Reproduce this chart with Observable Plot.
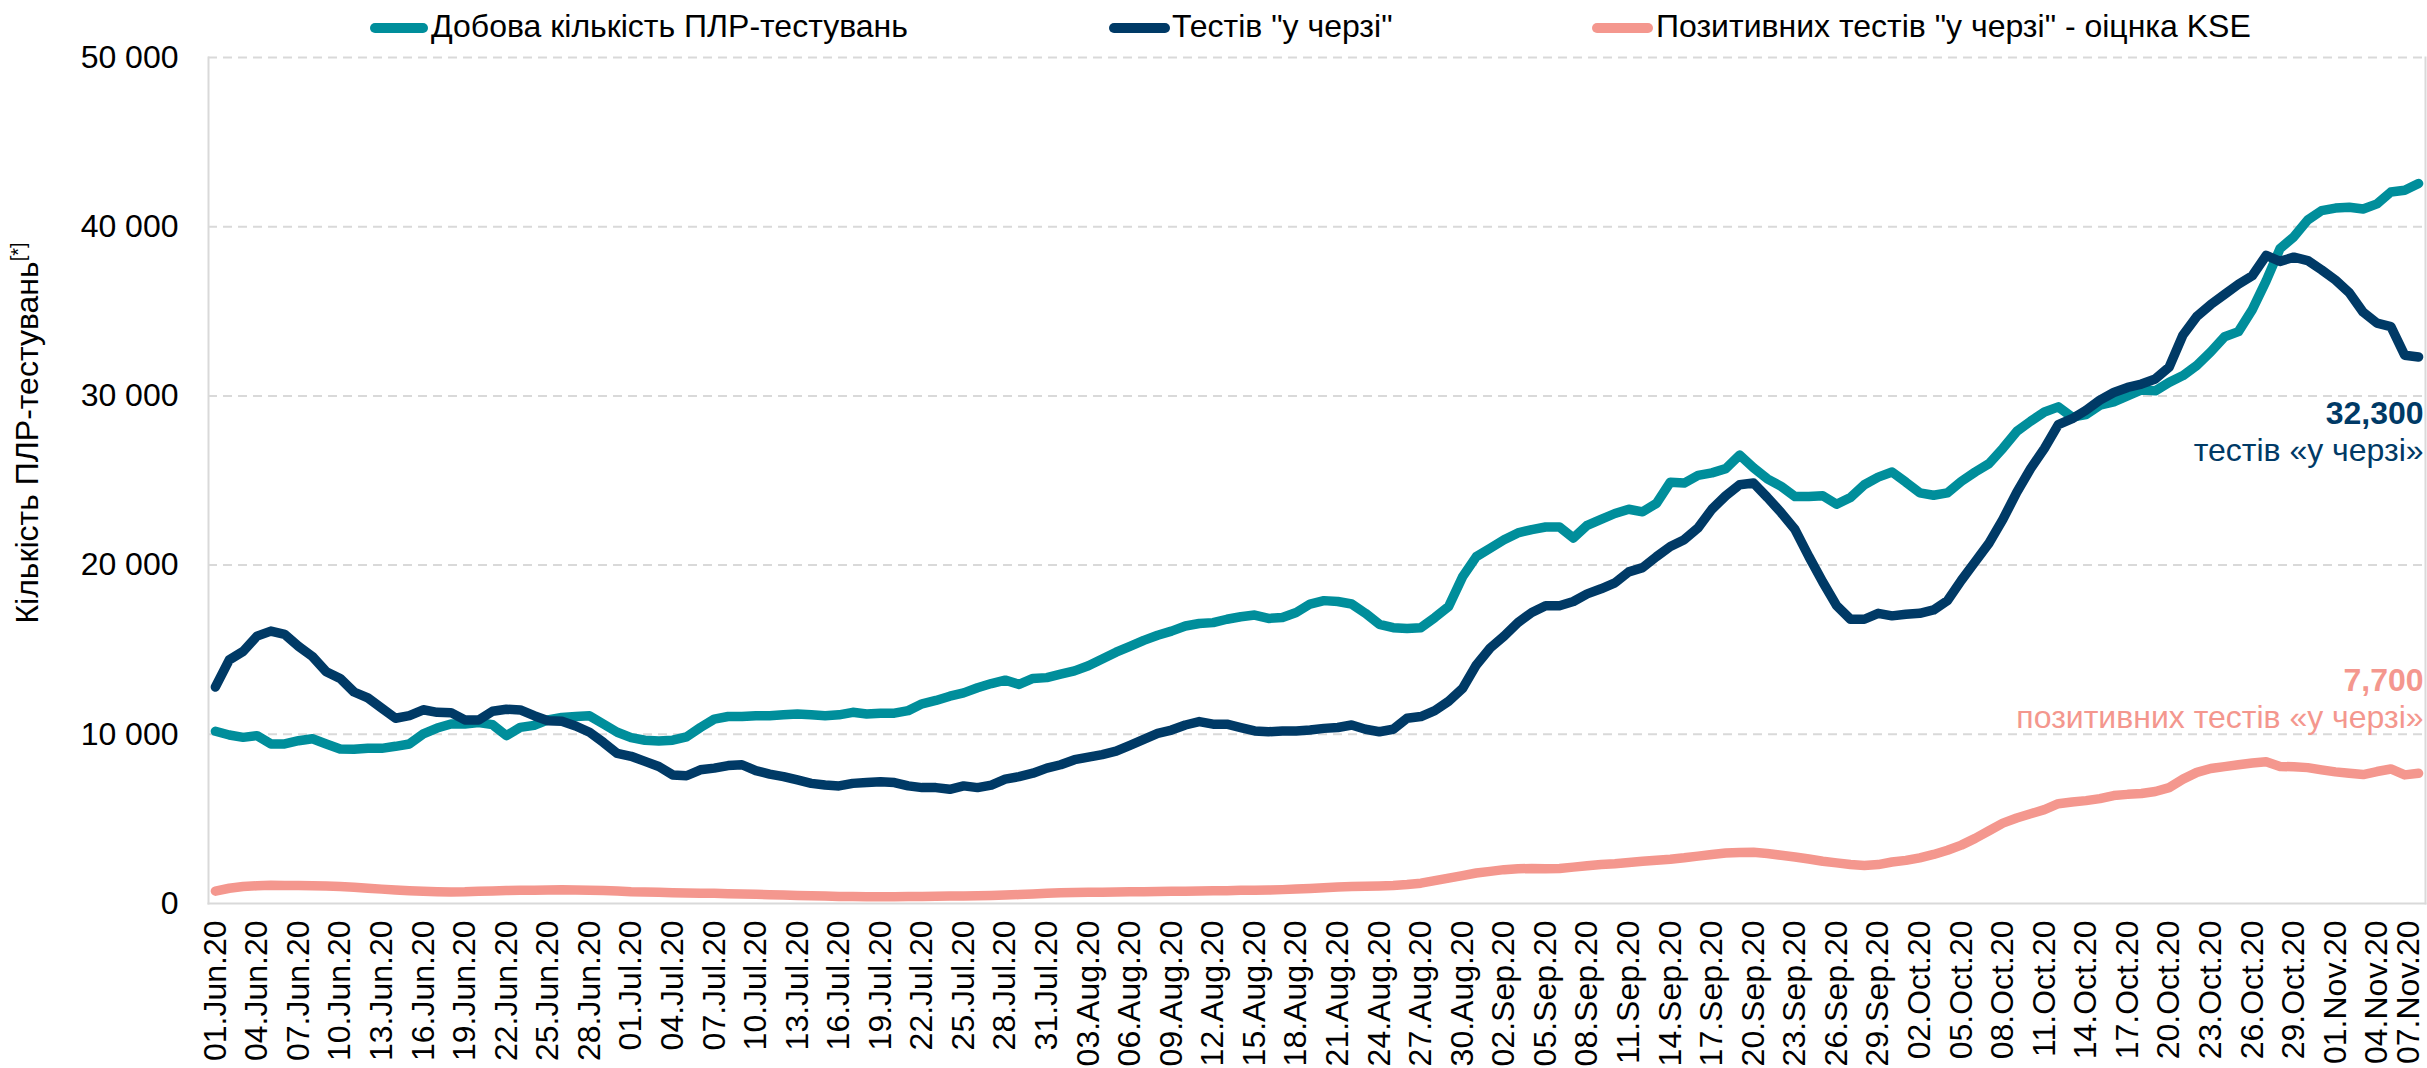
<!DOCTYPE html>
<html><head><meta charset="utf-8">
<script src="https://cdn.jsdelivr.net/npm/d3@7"></script>
<script src="https://cdn.jsdelivr.net/npm/@observablehq/plot@0.6"></script>
<style>
html,body{margin:0;padding:0;background:#fff;}
body{width:2427px;height:1068px;overflow:hidden;font-family:"Liberation Sans",Arial,sans-serif;}
#legend{position:relative;height:44px;width:2427px;z-index:2;}
.sw{position:absolute;top:23px;height:10px;border-radius:5px;}
.lt{position:absolute;top:10px;font-size:32px;line-height:32px;color:#000;white-space:nowrap;}
#chart svg{display:block;}
</style></head><body>
<div id="legend"></div>
<div id="chart"></div>
<script>
// ---- series names & colours ----
const seriesNames = ["Добова кількість ПЛР-тестувань", "Тестів \"у черзі\"", "Позитивних тестів \"у черзі\" - оіцнка KSE"];
const seriesColors = ["#008e9b", "#003a66", "#f4978e"];
const endSubLabels = ["тестів «у черзі»", "позитивних тестів «у черзі»"];
const yAxisTitle = "Кількість ПЛР-тестувань";
const yAxisNote = "[*]";

// ---- categories: daily dates 01.Jun.20 .. 07.Nov.20 ----
const dates = d3.utcDay.range(new Date(Date.UTC(2020, 5, 1)), new Date(Date.UTC(2020, 10, 8)));
const labels = dates.map(d3.utcFormat("%d.%b.%y"));
const tickLabels = labels.filter((d, i) => i % 3 === 0);
const yTicks = [0, 10000, 20000, 30000, 40000, 50000];

// ---- series values ----
const dailyTests = [
10180,9960,9820,9920,9430,9430,9620,9740,9430,9130,
9110,9170,9170,9290,9430,10020,10370,10610,10610,10690,
10570,9920,10410,10530,10850,11000,11050,11090,10610,10120,
9800,9650,9600,9650,9850,10400,10900,11050,11050,11100,
11100,11150,11200,11150,11100,11150,11300,11200,11250,11250,
11400,11800,12000,12250,12450,12750,13000,13200,12950,13300,
13350,13550,13750,14050,14450,14850,15200,15550,15850,16100,
16400,16550,16600,16800,16950,17050,16850,16900,17200,17700,
17900,17850,17700,17150,16500,16300,16250,16300,16900,17550,
19300,20500,21000,21500,21900,22100,22250,22250,21600,22350,
22700,23050,23300,23150,23650,24900,24850,25300,25450,25700,
26500,25750,25100,24650,24050,24050,24100,23600,24000,24750,
25200,25500,24900,24270,24130,24270,24950,25500,26000,26900,
27900,28500,29050,29350,28750,28900,29450,29650,30000,30350,
30300,30800,31200,31800,32600,33500,33800,35100,36800,38700,
39400,40400,40950,41100,41150,41050,41350,42050,42150,42550];

const queuedTests = [
12800,14400,14900,15800,16100,15900,15200,14600,13700,13300,
12500,12150,11550,10950,11100,11450,11300,11280,10850,10850,
11360,11480,11440,11100,10800,10770,10490,10120,9520,8870,
8700,8400,8100,7600,7550,7900,8000,8150,8200,7850,
7650,7500,7300,7100,7000,6950,7100,7150,7200,7150,
6950,6850,6850,6750,6950,6850,7000,7350,7500,7700,
8000,8200,8500,8650,8800,9000,9350,9700,10050,10250,
10550,10750,10600,10600,10400,10200,10150,10200,10200,10250,
10350,10400,10550,10300,10150,10300,10950,11050,11400,11950,
12700,14100,15100,15800,16600,17200,17600,17600,17850,18300,
18600,18950,19600,19850,20500,21100,21500,22200,23300,24100,
24750,24850,24000,23100,22100,20500,19000,17600,16800,16800,
17150,17000,17100,17150,17350,17900,19100,20200,21300,22700,
24300,25700,26900,28300,28650,29150,29750,30200,30500,30700,
31000,31700,33600,34700,35400,36000,36600,37100,38300,37950,
38200,38000,37450,36850,36100,34950,34300,34100,32400,32300];

const queuedPositive = [
730,900,1000,1050,1080,1070,1060,1050,1030,1000,
960,900,850,800,760,730,700,680,690,720,
740,770,780,790,800,810,800,790,770,740,
700,680,660,640,620,600,600,580,560,540,
520,500,480,460,440,420,410,400,400,400,
410,420,430,440,450,460,480,500,530,560,
600,630,650,660,670,680,690,700,710,720,
730,740,750,760,780,790,800,820,850,890,
930,980,1000,1020,1040,1060,1120,1200,1350,1500,
1650,1800,1900,2000,2050,2070,2060,2070,2150,2230,
2300,2350,2420,2500,2560,2620,2700,2800,2900,2980,
3020,3030,2950,2850,2750,2630,2500,2400,2300,2250,
2300,2450,2550,2700,2900,3150,3450,3850,4300,4750,
5050,5300,5550,5900,6000,6080,6200,6380,6450,6500,
6620,6850,7350,7750,7980,8090,8200,8300,8380,8100,
8080,8030,7900,7780,7700,7620,7800,7950,7600,7700];

// ---- legend ----
const legend = document.getElementById("legend");
const legendPos = [[370, 58, 431], [1109, 61, 1172], [1592, 61, 1656]];
seriesNames.forEach((name, i) => {
  const sw = document.createElement("div");
  sw.className = "sw";
  sw.style.left = legendPos[i][0] + "px";
  sw.style.width = legendPos[i][1] + "px";
  sw.style.background = seriesColors[i];
  legend.appendChild(sw);
  const t = document.createElement("div");
  t.className = "lt";
  t.style.left = legendPos[i][2] + "px";
  t.textContent = name;
  legend.appendChild(t);
});

// ---- chart ----
const toRows = arr => arr.map((v, i) => ({date: labels[i], value: v}));
const tealRows = toRows(dailyTests), navyRows = toRows(queuedTests), pinkRows = toRows(queuedPositive);
const fmtY = d => d === 0 ? "0" : d3.format(",")(d).replace(/,/g, " ");
const fmtEnd = d3.format(",");
const lineOpts = (c) => ({x: "date", y: "value", stroke: c, strokeWidth: 9.5, strokeLinejoin: "round", strokeLinecap: "round"});
const frameC = "#d9d9d9";
const xAxisOpts = {tickRotate: -90, tickSize: 0, tickPadding: 17, fontSize: 32, fill: "#000", label: null};

const plot = Plot.plot({
  width: 2427, height: 1024,
  marginTop: 13, marginBottom: 165, marginLeft: 208, marginRight: 2,
  style: {fontFamily: '"Liberation Sans", Arial, sans-serif', fontSize: "32px", background: "transparent", overflow: "visible", color: "#000"},
  x: {type: "point", domain: labels, padding: 0.5, label: null},
  y: {domain: [0, 50000], label: null},
  marks: [
    Plot.ruleY(yTicks.slice(1), {stroke: frameC, strokeWidth: 2, strokeDasharray: "9,6"}),
    Plot.frame({anchor: "left", stroke: frameC, strokeWidth: 2}),
    Plot.frame({anchor: "right", stroke: frameC, strokeWidth: 2}),
    Plot.frame({anchor: "bottom", stroke: frameC, strokeWidth: 2}),
    Plot.axisY({ticks: yTicks, tickFormat: fmtY, tickSize: 0, tickPadding: 30, fontSize: 32, fill: "#000", label: null}),
    Plot.axisX({...xAxisOpts, ticks: tickLabels.slice(0, -1)}),
    Plot.axisX({...xAxisOpts, ticks: tickLabels.slice(-1), dx: -10}),
    Plot.line(tealRows, lineOpts(seriesColors[0])),
    Plot.line(navyRows, lineOpts(seriesColors[1])),
    Plot.line(pinkRows, lineOpts(seriesColors[2])),
    Plot.text([navyRows[navyRows.length - 1]], {x: "date", y: "value", text: d => fmtEnd(d.value), textAnchor: "end", lineAnchor: "bottom", dx: 5, dy: 67, fontSize: 32, fontWeight: "bold", fill: seriesColors[1]}),
    Plot.text([navyRows[navyRows.length - 1]], {x: "date", y: "value", text: () => endSubLabels[0], textAnchor: "end", lineAnchor: "bottom", dx: 5, dy: 104, fontSize: 32, fill: seriesColors[1]}),
    Plot.text([pinkRows[pinkRows.length - 1]], {x: "date", y: "value", text: d => fmtEnd(d.value), textAnchor: "end", lineAnchor: "bottom", dx: 5, dy: -82, fontSize: 32, fontWeight: "bold", fill: seriesColors[2]}),
    Plot.text([pinkRows[pinkRows.length - 1]], {x: "date", y: "value", text: () => endSubLabels[1], textAnchor: "end", lineAnchor: "bottom", dx: 5, dy: -45, fontSize: 32, fill: seriesColors[2]})
  ]
});
document.getElementById("chart").appendChild(plot);

// y-axis title with superscript note
const svg = d3.select(plot.tagName.toLowerCase() === "svg" ? plot : plot.querySelector("svg"));
const title = svg.append("text")
  .attr("transform", "translate(38," + (433 - 44) + ") rotate(-90)")
  .attr("text-anchor", "middle")
  .attr("font-size", 32)
  .attr("fill", "#000");
title.append("tspan").text(yAxisTitle);
title.append("tspan").attr("font-size", 20).attr("dy", -13).text(yAxisNote);
</script>
</body></html>
